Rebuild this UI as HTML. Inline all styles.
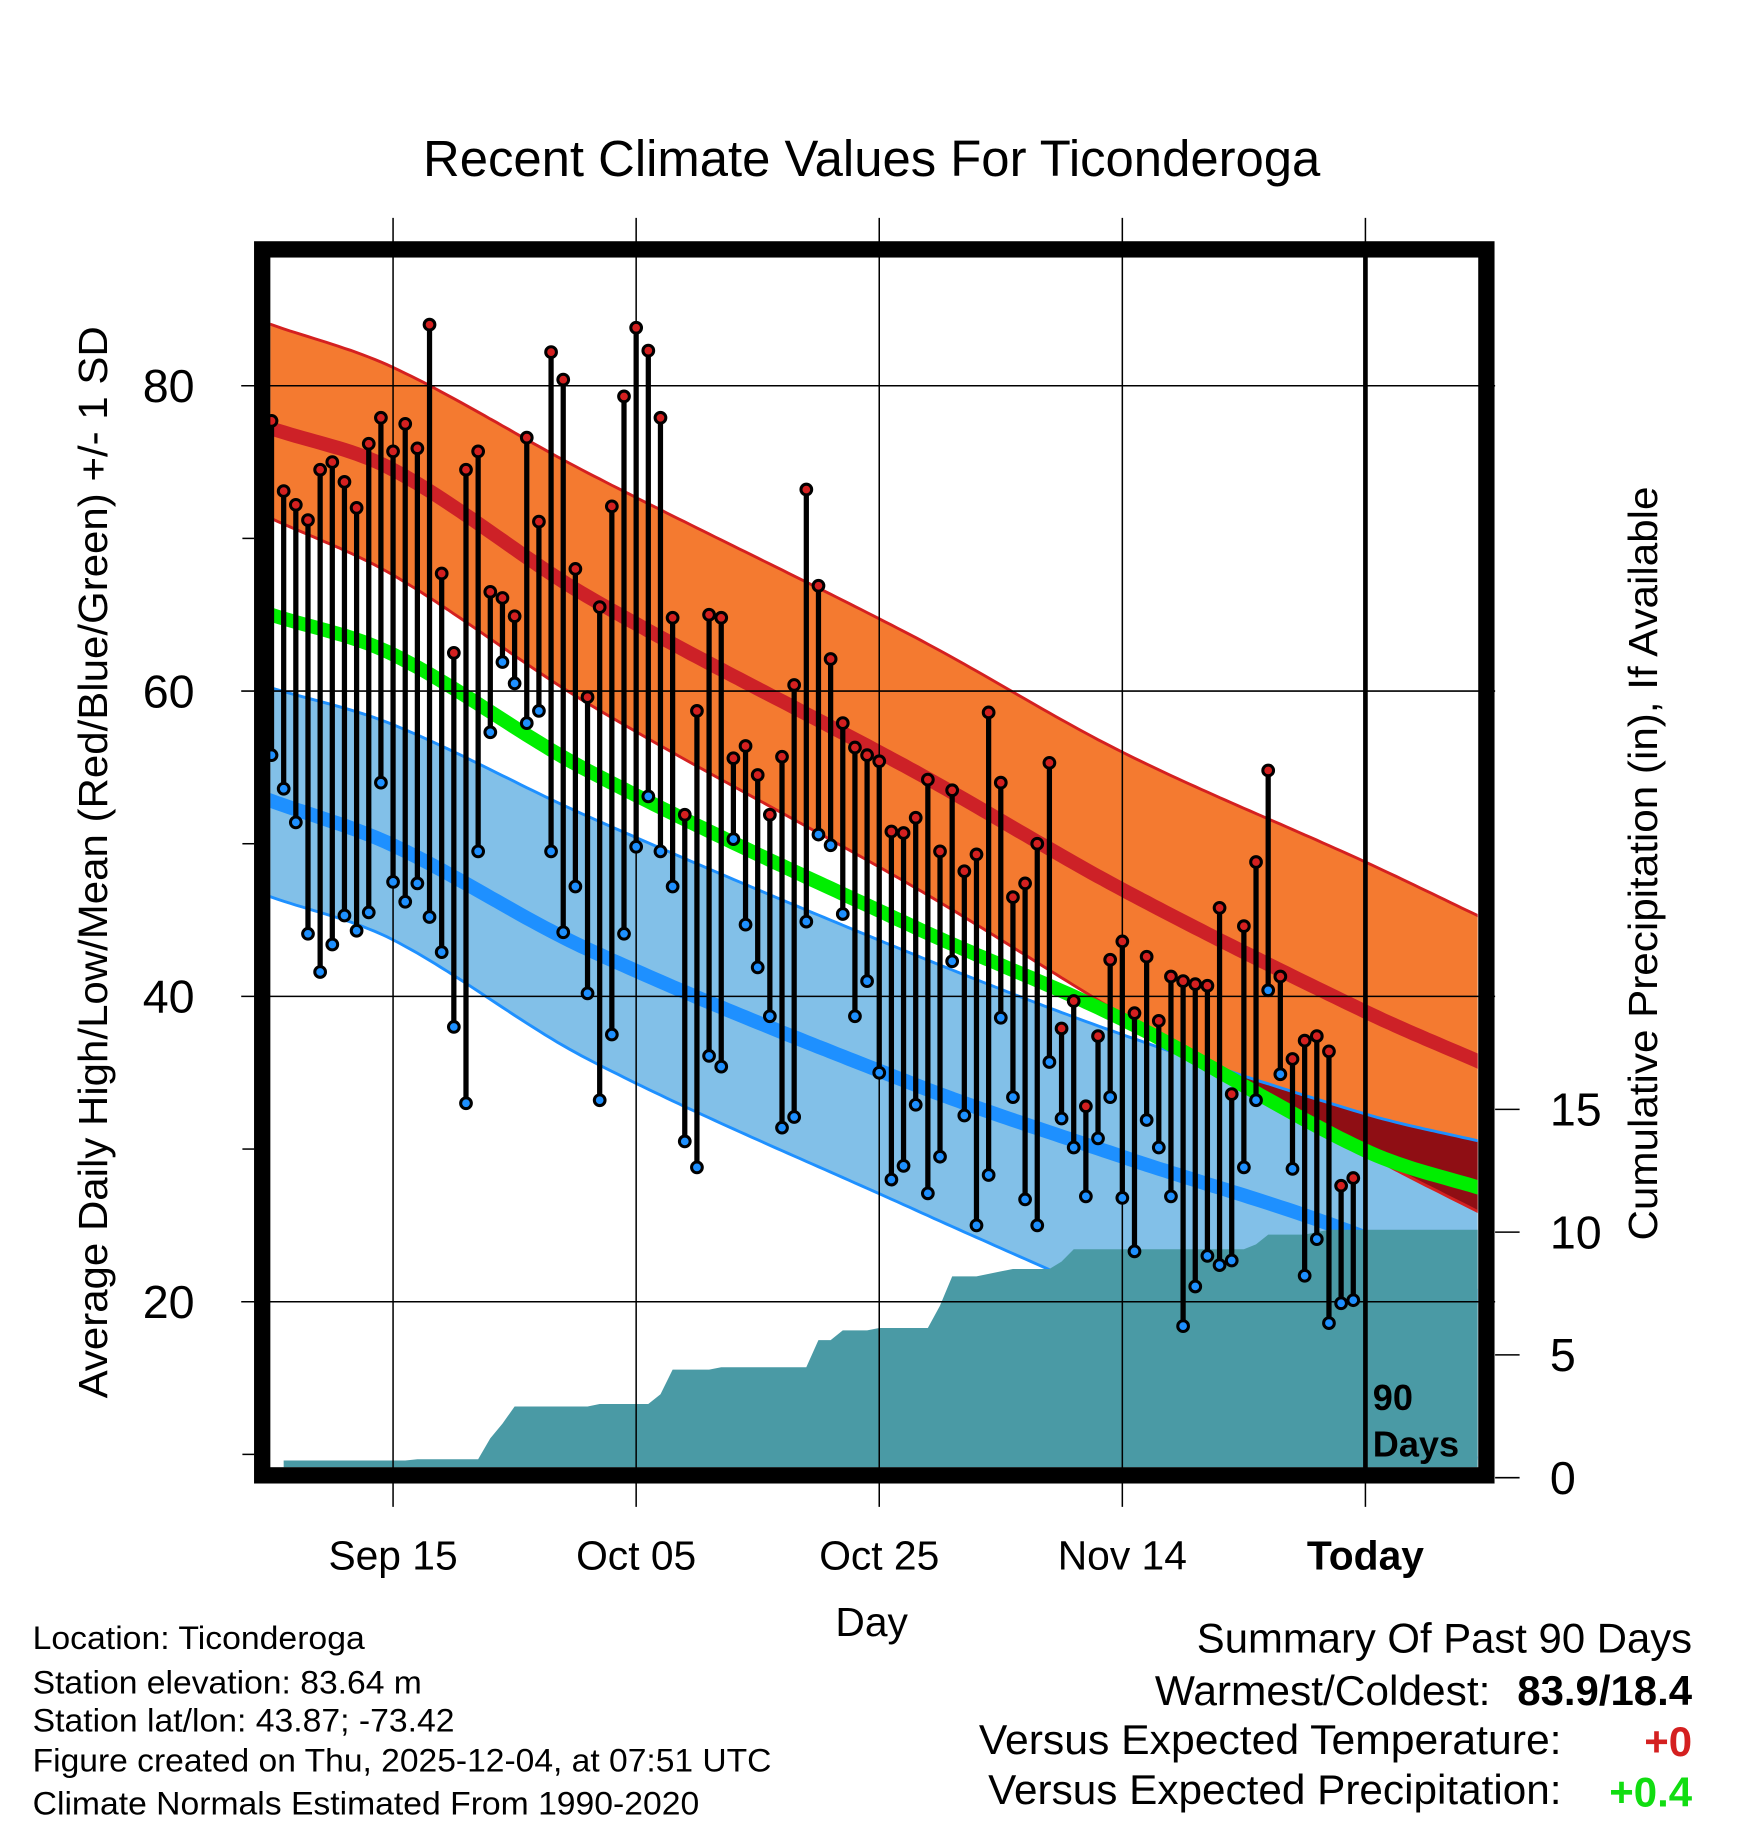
<!DOCTYPE html>
<html><head><meta charset="utf-8"><style>
html,body{margin:0;padding:0;background:#fff;}
svg{display:block;font-family:"Liberation Sans",Arial,sans-serif;}
</style></head><body>
<svg id="chart" width="1748" height="1828" viewBox="0 0 1500 1568.6" preserveAspectRatio="none" xmlns="http://www.w3.org/2000/svg">
<defs><clipPath id="plotclip"><rect x="232" y="221" width="1036" height="1038"/></clipPath></defs>
<rect x="0" y="0" width="1500" height="1568.6" fill="#fff"/>
<g id="bands" clip-path="url(#plotclip)"></g>
<g id="grid"></g>
<g id="marks"></g>
<rect x="225" y="214" width="1050.5" height="1052" fill="none" stroke="#000" stroke-width="14"/>
<text x="748" y="151" font-size="44" text-anchor="middle" textLength="770" lengthAdjust="spacingAndGlyphs">Recent Climate Values For Ticonderoga</text>
<text x="748" y="1404" font-size="35" text-anchor="middle">Day</text>
<text transform="translate(92,740) rotate(-90)" font-size="35" text-anchor="middle" textLength="920" lengthAdjust="spacingAndGlyphs">Average Daily High/Low/Mean (Red/Blue/Green) +/- 1 SD</text>
<text transform="translate(1422,741) rotate(-90)" font-size="35" text-anchor="middle" textLength="647" lengthAdjust="spacingAndGlyphs">Cumulative Precipitation (in), If Available</text>
<text x="1178" y="1210" font-size="31" font-weight="bold">90</text>
<text x="1178" y="1250" font-size="31" font-weight="bold">Days</text>
<g font-size="28">
<text x="28" y="1415" textLength="285" lengthAdjust="spacingAndGlyphs">Location: Ticonderoga</text>
<text x="28" y="1453" textLength="334" lengthAdjust="spacingAndGlyphs">Station elevation: 83.64 m</text>
<text x="28" y="1486" textLength="362" lengthAdjust="spacingAndGlyphs">Station lat/lon: 43.87; -73.42</text>
<text x="28" y="1520" textLength="634" lengthAdjust="spacingAndGlyphs">Figure created on Thu, 2025-12-04, at 07:51 UTC</text>
<text x="28" y="1557" textLength="572" lengthAdjust="spacingAndGlyphs">Climate Normals Estimated From 1990-2020</text>
</g>
<g font-size="36">
<text x="1452" y="1418" text-anchor="end" textLength="425" lengthAdjust="spacingAndGlyphs">Summary Of Past 90 Days</text>
<text x="1279" y="1463" text-anchor="end" textLength="288" lengthAdjust="spacingAndGlyphs">Warmest/Coldest:</text>
<text x="1452" y="1463" text-anchor="end" font-weight="bold" textLength="150" lengthAdjust="spacingAndGlyphs">83.9/18.4</text>
<text x="1340" y="1505" text-anchor="end" textLength="500" lengthAdjust="spacingAndGlyphs">Versus Expected Temperature:</text>
<text x="1452" y="1507" text-anchor="end" font-weight="bold" fill="#d42020">+0</text>
<text x="1340" y="1548" text-anchor="end" textLength="492" lengthAdjust="spacingAndGlyphs">Versus Expected Precipitation:</text>
<text x="1452" y="1550" text-anchor="end" font-weight="bold" fill="#11dd11">+0.4</text>
</g>
<g id="axes"></g>
</svg>
<script>
const highs=[77.7,73.1,72.2,71.2,74.5,75,73.7,72,76.2,77.9,75.7,77.5,75.9,84,67.7,62.5,74.5,75.7,66.5,66.1,64.9,76.6,71.1,82.2,80.4,68,59.6,65.5,72.1,79.3,83.8,82.3,77.9,64.8,51.9,58.7,65,64.8,55.6,56.4,54.5,51.9,55.7,60.4,73.2,66.9,62.1,57.9,56.3,55.8,55.4,50.8,50.7,51.7,54.2,49.5,53.5,48.2,49.3,58.6,54,46.5,47.4,50,55.3,37.9,39.7,32.8,37.4,42.4,43.6,38.9,42.6,38.4,41.3,41,40.8,40.7,45.8,33.6,44.6,48.8,54.8,41.3,35.9,37.1,37.4,36.4,27.6,28.1];
const lows=[55.8,53.6,51.4,44.1,41.6,43.4,45.3,44.3,45.5,54,47.5,46.2,47.4,45.2,42.9,38,33,49.5,57.3,61.9,60.5,57.9,58.7,49.5,44.2,47.2,40.2,33.2,37.5,44.1,49.8,53.1,49.5,47.2,30.5,28.8,36.1,35.4,50.3,44.7,41.9,38.7,31.4,32.1,44.9,50.6,49.9,45.4,38.7,41,35,28,28.9,32.9,27.1,29.5,42.3,32.2,25,28.3,38.6,33.4,26.7,25,35.7,32,30.1,26.9,30.7,33.4,26.8,23.3,31.9,30.1,26.9,18.4,21,23,22.4,22.7,28.8,33.2,40.4,34.9,28.7,21.7,24.1,18.6,19.9,20.1];
const precip=[0.7,0.7,0.7,0.7,0.7,0.7,0.7,0.7,0.7,0.7,0.7,0.7,0.75,0.75,0.75,0.75,0.75,0.75,1.6,2.2,2.9,2.9,2.9,2.9,2.9,2.9,2.9,3.0,3.0,3.0,3.0,3.0,3.4,4.4,4.4,4.4,4.4,4.5,4.5,4.5,4.5,4.5,4.5,4.5,4.5,5.6,5.6,6.0,6.0,6.0,6.1,6.1,6.1,6.1,6.1,7.0,8.2,8.2,8.2,8.3,8.4,8.5,8.5,8.5,8.5,8.8,9.3,9.3,9.3,9.3,9.3,9.3,9.3,9.3,9.3,9.3,9.3,9.3,9.3,9.3,9.3,9.5,9.9,9.9,9.9,9.9,10.0,10.1,10.1,10.1];
const normDays=[0,10,26,53,70,90,100];
const normHighUpper=[84.0,81.2,74.3,63.5,56.0,48.8,45.0];
const normHighMean=[77.2,74.5,66.2,54.7,47.0,39.0,35.5];
const normHighLower=[71.3,67.6,59.2,47.1,38.8,29.7,25.6];
const normMean=[65.0,62.4,54.8,44.5,38.5,29.9,27.3];
const normLowUpper=[60.2,57.8,51.8,42.7,37.5,32.3,30.4];
const normLowMean=[52.8,49.9,43.1,34.2,29.5,24.2,20.0];
const normLowLower=[46.5,43.7,35.9,26.0,20.0,13.0,9.5];
const xTickDays=[10,30,50,70,90];
const xTickLabels=["Sep 15","Oct 05","Oct 25","Nov 14","Today"];
const yTicks=[20,40,60,80];
const yMinorTicks=[10,30,50,70];
const pTicks=[0,5,10,15];

const NS="http://www.w3.org/2000/svg";
const xS=d=>233+d*10.43;
const yS=v=>331+(80-v)*13.1;
const pS=p=>1268-p*21.07;
function mk(tag,attrs,parent){const e=document.createElementNS(NS,tag);for(const k in attrs)e.setAttribute(k,attrs[k]);parent.appendChild(e);return e;}
function interp(arr,d){
  const n=normDays.length;
  if(d<=normDays[0]){const s=(arr[1]-arr[0])/(normDays[1]-normDays[0]);return arr[0]+(d-normDays[0])*s;}
  if(d>=normDays[n-1]){const s=(arr[n-1]-arr[n-2])/(normDays[n-1]-normDays[n-2]);return arr[n-1]+(d-normDays[n-1])*s;}
  let i=0;while(d>normDays[i+1])i++;
  const x0=normDays[i],x1=normDays[i+1],h=x1-x0,t=(d-x0)/h;
  const sl=k=>{if(k===0)return (arr[1]-arr[0])/(normDays[1]-normDays[0]);if(k===n-1)return (arr[n-1]-arr[n-2])/(normDays[n-1]-normDays[n-2]);return (arr[k+1]-arr[k-1])/(normDays[k+1]-normDays[k-1]);};
  const m0=sl(i)*h,m1=sl(i+1)*h,t2=t*t,t3=t2*t;
  return (2*t3-3*t2+1)*arr[i]+(t3-2*t2+t)*m0+(-2*t3+3*t2)*arr[i+1]+(t3-t2)*m1;
}
const dd=[];for(let d=-1;d<=100;d+=0.5)dd.push(d);
const pts=arr=>dd.map(d=>xS(d).toFixed(1)+","+yS(interp(arr,d)).toFixed(1));
const bands=document.getElementById('bands');
const hiPoly=pts(normHighUpper).concat(pts(normHighLower).reverse()).join(" ");
const loPoly=pts(normLowUpper).concat(pts(normLowLower).reverse()).join(" ");
const defs=document.querySelector('defs');
const cp=mk('clipPath',{id:'hiclip'},defs);mk('polygon',{points:hiPoly},cp);
let e;
e=mk('polygon',{points:hiPoly,fill:'#f47a30'},bands);


e=mk('polygon',{points:loPoly,fill:'#82c0e8'},bands);


e=mk('polygon',{points:loPoly,fill:'#8f0e14','clip-path':'url(#hiclip)'},bands);


const line=(arr,col,w,name)=>{const l=mk('polyline',{points:pts(arr).join(" "),fill:'none',stroke:col,'stroke-width':w},bands);};
line(normHighUpper,'#d42020',2.5,'high-upper-edge');
line(normHighLower,'#d42020',2.5,'high-lower-edge');
line(normLowUpper,'#1e90ff',2.5,'low-upper-edge');
line(normLowLower,'#1e90ff',2.5,'low-lower-edge');
line(normLowMean,'#1e90ff',12,'normal-low-line');
line(normHighMean,'#cd2127',12,'normal-high-line');
line(normMean,'#00ee00',12,'normal-mean-line');
let pp=[xS(1)+","+1260];
precip.forEach((p,i)=>{if(i>=1)pp.push(xS(i).toFixed(1)+","+pS(p).toFixed(1));});
pp.push("1270,"+pS(precip[precip.length-1]).toFixed(1));pp.push("1270,1260");
e=mk('polygon',{points:pp.join(" "),fill:'#4a9aa5'},bands);


const grid=document.getElementById('grid');
xTickDays.forEach((d,i)=>{const g=mk('line',{x1:xS(d),x2:xS(d),y1:187,y2:1293,stroke:'#000','stroke-width':1.3},grid);});
yTicks.forEach(v=>{const g=mk('line',{x1:207,x2:1283,y1:yS(v),y2:yS(v),stroke:'#000','stroke-width':1.3},grid);});
yMinorTicks.forEach(v=>{const g=mk('line',{x1:208,x2:218,y1:yS(v),y2:yS(v),stroke:'#000','stroke-width':1.3},grid);});
pTicks.forEach(p=>{const g=mk('line',{x1:1283,x2:1304,y1:pS(p),y2:pS(p),stroke:'#000','stroke-width':1.3},grid);});
e=mk('line',{x1:xS(90),x2:xS(90),y1:221,y2:1260,stroke:'#000','stroke-width':4},grid);


const marks=document.getElementById('marks');
highs.forEach((h,i)=>{const x=xS(i);
 const s=mk('line',{x1:x,x2:x,y1:yS(h),y2:yS(lows[i]),stroke:'#000','stroke-width':4.5},marks);
 
 
 const c1=mk('circle',{cx:x,cy:yS(h),r:4.6,fill:'#d42020',stroke:'#000','stroke-width':2.6},marks);
 
 
 const c2=mk('circle',{cx:x,cy:yS(lows[i]),r:4.6,fill:'#1e90ff',stroke:'#000','stroke-width':2.6},marks);
 
 
});
const axes=document.getElementById('axes');
xTickDays.forEach((d,i)=>{const t=mk('text',{x:xS(d),y:1347,'font-size':35,'text-anchor':'middle','font-weight':i===4?'bold':'normal'},axes);t.textContent=xTickLabels[i];});
yTicks.forEach(v=>{const t=mk('text',{x:167,y:yS(v)+14,'font-size':40,'text-anchor':'end'},axes);t.textContent=v;});
pTicks.forEach(p=>{const t=mk('text',{x:1330,y:pS(p)+14,'font-size':40},axes);t.textContent=p;});
</script>
</body></html>
